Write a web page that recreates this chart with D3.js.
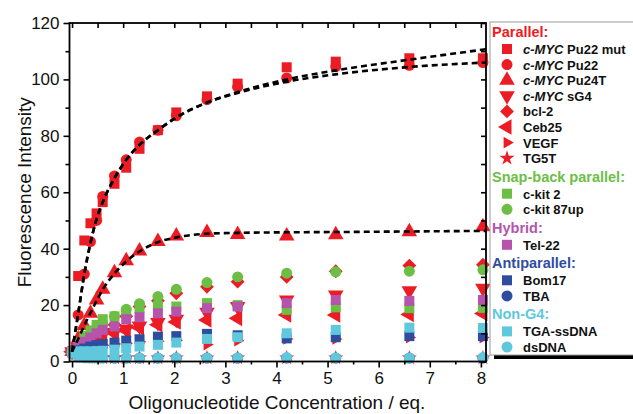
<!DOCTYPE html>
<html>
<head>
<meta charset="utf-8">
<script src="https://cdn.jsdelivr.net/npm/d3@7"></script>
<style>
  body { margin: 0; background: #fff; }
  text { font-family: "Liberation Sans", Arial, sans-serif; }
</style>
</head>
<body>
<div id="chart"></div>
<script>
// titration points, eq. of oligonucleotide
const conc = [0, 0.12, 0.24, 0.36, 0.48, 0.6, 0.83, 1.06, 1.32, 1.68, 2.04, 2.64, 3.24, 4.2, 5.16, 6.6, 8.04];

// fluorescence intensity for each oligo
const pu22mut  = [3.5, 30.3, 42.9, 49, 52.5, 56.5, 63, 68.7, 75.4, 82, 88.3, 94, 98.5, 104.3, 106.3, 107.5, 107.5];
const pu22     = [3.5, 16.5, 31, 42.5, 50, 58.5, 65.8, 71.5, 77.8, 82, 87.1, 92.8, 97.3, 100.5, 104.5, 105, 106];
const pu24t    = [3.5, 8, 12.8, 17.1, 21.8, 25.6, 31.5, 35.7, 39.2, 42.5, 44.5, 45.7, 45, 44.5, 44.9, 46, 47.8];
const sg4      = [3.5, 5, 6.5, 8, 9, 9.5, 10.3, 11.5, 12.6, 13.8, 15, 17.5, 19.5, 21.8, 23.6, 25.1, 26];
const bcl2     = [3.5, 5, 6.5, 8, 9.5, 11, 13, 16, 19.5, 21.5, 24.2, 26.5, 28.3, 30, 32, 34, 34.3];
const ceb25    = [3.5, 5, 6, 7, 8, 9, 10, 11, 12, 13, 14, 14.7, 15.3, 16.5, 16.5, 16.7, 17];
const vegf     = [3.5, 4, 4.5, 5, 5.5, 5.8, 6.2, 6.5, 7, 7.2, 7.5, 6, 7.4, 8, 8, 8.5, 8.5];
const tg5t     = [3.5, 2.5, 2, 1.5, 1.5, 1.3, 1.3, 1.3, 1.3, 1.3, 1.3, 1.3, 1.3, 1.3, 1.3, 1.3, 1.3];
const ckit2    = [3.5, 6.5, 9, 11, 13, 15, 16, 17.5, 18.9, 19.7, 19.5, 20.7, 20, 18.3, 19.2, 18.9, 19];
const ckit87up = [3.5, 5.5, 7.5, 9.5, 11.5, 13.5, 16, 18.5, 20.5, 23, 25.6, 28, 30, 31.3, 31.8, 32, 32.5];
const tel22    = [3.5, 5.5, 7, 8.5, 10, 11.2, 12.4, 15, 15.7, 17.1, 17.7, 18.9, 19.5, 20.7, 21.8, 21.5, 21.8];
const bom17    = [3.5, 4, 4.6, 5.3, 5.8, 6.2, 6.7, 7.4, 7.9, 8.8, 9, 9.8, 9.3, 8.2, 8.6, 9, 9];
const tba      = [3, 2.5, 2, 1.8, 1.5, 1.3, 1.2, 1.2, 1.2, 1.2, 1.2, 1.2, 1.2, 1.2, 1.2, 1.2, 1.2];
const tgass    = [3.5, 3.6, 3.6, 3.6, 3.7, 3.8, 4.2, 4.7, 5.3, 5.9, 6.7, 8, 8.6, 10, 11.2, 12, 11.9];
const dsdna    = [3, 1.5, 1.3, 1.2, 1.2, 1.2, 1.2, 1.2, 1.2, 1.2, 1.2, 1.2, 1.2, 1.4, 1.2, 1.2, 1.4];

// dashed fit curves, sampled from the figure
const fitX     = [0, 0.12, 0.24, 0.36, 0.48, 0.6, 0.83, 1.06, 1.32, 1.68, 2.04, 2.64, 3.24, 4.2, 5.16, 6.6, 8.1];
const fitMut   = [3.5, 17, 31, 42, 50.5, 56.5, 65, 71.5, 76.8, 82, 86.5, 91.8, 95.5, 100, 103.2, 107, 110.7];
const fitPu22  = [3.5, 17, 31, 42, 50.5, 56.5, 65, 71.5, 76.8, 82, 86.5, 91.8, 95.2, 99.2, 101.8, 104.4, 106];
const fitPu24t = [3.5, 8, 12.8, 17.2, 21.5, 25.5, 31.2, 35.5, 39, 42.3, 44, 45.3, 45.6, 45.8, 45.9, 46.1, 46.3];

const yTicks = [0, 20, 40, 60, 80, 100, 120];
const xTicks = [0, 1, 2, 3, 4, 5, 6, 7, 8];

const RED = "#ec1c24", GREEN = "#6dbe45", PURPLE = "#b553ad", BLUE = "#2f4d9f", CYAN = "#5fc8dc";

const groups = [
  {name: "Parallel:", color: RED, items: [
    {it: "c-MYC", rest: " Pu22 mut", data: pu22mut, color: RED, shape: "square"},
    {it: "c-MYC", rest: " Pu22", data: pu22, color: RED, shape: "circle"},
    {it: "c-MYC", rest: " Pu24T", data: pu24t, color: RED, shape: "up"},
    {it: "c-MYC", rest: " sG4", data: sg4, color: RED, shape: "down"},
    {it: "", rest: "bcl-2", data: bcl2, color: RED, shape: "diamond"},
    {it: "", rest: "Ceb25", data: ceb25, color: RED, shape: "left"},
    {it: "", rest: "VEGF", data: vegf, color: RED, shape: "right"},
    {it: "", rest: "TG5T", data: tg5t, color: RED, shape: "star"}]},
  {name: "Snap-back parallel:", color: GREEN, items: [
    {it: "", rest: "c-kit 2", data: ckit2, color: GREEN, shape: "square"},
    {it: "", rest: "c-kit 87up", data: ckit87up, color: GREEN, shape: "circle"}]},
  {name: "Hybrid:", color: PURPLE, items: [
    {it: "", rest: "Tel-22", data: tel22, color: PURPLE, shape: "square"}]},
  {name: "Antiparallel:", color: BLUE, items: [
    {it: "", rest: "Bom17", data: bom17, color: BLUE, shape: "square"},
    {it: "", rest: "TBA", data: tba, color: BLUE, shape: "circle"}]},
  {name: "Non-G4:", color: CYAN, items: [
    {it: "", rest: "TGA-ssDNA", data: tgass, color: CYAN, shape: "square"},
    {it: "", rest: "dsDNA", data: dsdna, color: CYAN, shape: "circle"}]}
];

const W = 633, H = 414;
const svg = d3.select("#chart").append("svg").attr("width", W).attr("height", H);

const x = d3.scaleLinear().domain([-0.05, 8.1]).range([69.5, 486]);
const y = d3.scaleLinear().domain([0, 120]).range([361.5, 23]);

// marker shapes
const shapes = {
  square:  {type: d3.symbolSquare, size: 100, rot: 0},
  circle:  {type: d3.symbolCircle, size: 95, rot: 0},
  up:      {type: d3.symbolTriangle, size: 105, rot: 0},
  down:    {type: d3.symbolTriangle, size: 105, rot: 180},
  left:    {type: d3.symbolTriangle, size: 105, rot: -90},
  right:   {type: d3.symbolTriangle, size: 60, rot: 90},
  diamond: {type: d3.symbolSquare, size: 95, rot: 45},
  star:    {type: d3.symbolStar, size: 70, rot: 0}
};
function sym(g, shape, cx, cy, color) {
  const s = shapes[shape];
  g.append("path")
    .attr("d", d3.symbol().type(s.type).size(s.size)())
    .attr("transform", `translate(${cx},${cy}) rotate(${s.rot})`)
    .attr("fill", color);
}

// scatter points
const series = groups.flatMap(g => g.items);
const pts = svg.append("g");
series.forEach(s => {
  s.data.forEach((v, i) => sym(pts, s.shape, x(conc[i]), y(v), s.color));
});

// fit curves
const line = d3.line().x((d, i) => x(fitX[i])).y(d => y(d)).curve(d3.curveMonotoneX);
[fitMut, fitPu22, fitPu24t].forEach(f => {
  svg.append("path").attr("d", line(f))
    .attr("fill", "none").attr("stroke", "#000")
    .attr("stroke-width", 2.6).attr("stroke-dasharray", "6,4");
});

// axes
const halfX = d3.range(0.5, 8.1, 1);
const oddY = d3.range(10, 120, 20);
const fmt = d3.format("d");
function styleAxis(g) {
  g.select(".domain").remove();
  g.selectAll("line").attr("stroke", "#000").attr("stroke-width", 1.6);
  g.selectAll("text").attr("fill", "#111").style("font-size", "17px");
}
svg.append("g").attr("transform", `translate(0,${y.range()[0]})`)
  .call(d3.axisBottom(x).tickValues(xTicks).tickFormat(fmt).tickSize(6).tickPadding(4)).call(styleAxis);
svg.append("g").attr("transform", `translate(0,${y.range()[0]})`)
  .call(d3.axisBottom(x).tickValues(halfX).tickFormat("").tickSize(3)).call(styleAxis);
svg.append("g").attr("transform", `translate(${x.range()[0]},0)`)
  .call(d3.axisLeft(y).tickValues(yTicks).tickFormat(fmt).tickSize(6).tickPadding(4)).call(styleAxis);
svg.append("g").attr("transform", `translate(${x.range()[0]},0)`)
  .call(d3.axisLeft(y).tickValues(oddY).tickFormat("").tickSize(4)).call(styleAxis);
svg.append("g").attr("transform", `translate(0,${y.range()[1]})`)
  .call(d3.axisTop(x).tickValues(xTicks.concat(halfX)).tickFormat("").tickSize(-5)).call(styleAxis);
svg.append("g").attr("transform", `translate(${x.range()[1]},0)`)
  .call(d3.axisRight(y).tickValues(yTicks.concat(oddY)).tickFormat("").tickSize(-5)).call(styleAxis);

svg.append("rect")
  .attr("x", x.range()[0]).attr("y", y.range()[1])
  .attr("width", x.range()[1] - x.range()[0]).attr("height", y.range()[0] - y.range()[1])
  .attr("fill", "none").attr("stroke", "#000").attr("stroke-width", 1.8);

svg.append("text")
  .attr("transform", `translate(24,${(y.range()[0] + y.range()[1]) / 2}) rotate(-90)`)
  .attr("text-anchor", "middle").attr("dominant-baseline", "central")
  .style("font-size", "19px").attr("fill", "#111")
  .text("Fluorescence Intensity");
svg.append("text")
  .attr("x", 277).attr("y", 409)
  .attr("text-anchor", "middle")
  .style("font-size", "19px").attr("fill", "#111")
  .text("Oligonucleotide Concentration / eq.");

// legend
const lg = svg.append("g");
lg.append("rect").attr("x", 494).attr("y", 26).attr("width", 200).attr("height", 333).attr("fill", "#000");
lg.append("rect").attr("x", 490).attr("y", 22).attr("width", 200).attr("height", 333)
  .attr("fill", "#fff").attr("stroke", "#999").attr("stroke-width", 1);

let ly = 32, prev = null;
groups.forEach(g => {
  if (prev) ly += 18.5;
  lg.append("text").attr("x", 492).attr("y", ly).attr("dominant-baseline", "central")
    .style("font-size", "14.5px").style("font-weight", "bold").attr("fill", g.color)
    .text(g.name);
  prev = "h";
  g.items.forEach(s => {
    ly += prev === "h" ? 17 : 15.6;
    prev = "i";
    sym(lg, s.shape, 507, ly, s.color);
    const t = lg.append("text").attr("x", 523).attr("y", ly).attr("dominant-baseline", "central")
      .style("font-size", "13px").style("font-weight", "bold").attr("fill", "#111");
    if (s.it) t.append("tspan").style("font-style", "italic").text(s.it);
    t.append("tspan").text(s.rest);
  });
});
</script>
</body>
</html>
